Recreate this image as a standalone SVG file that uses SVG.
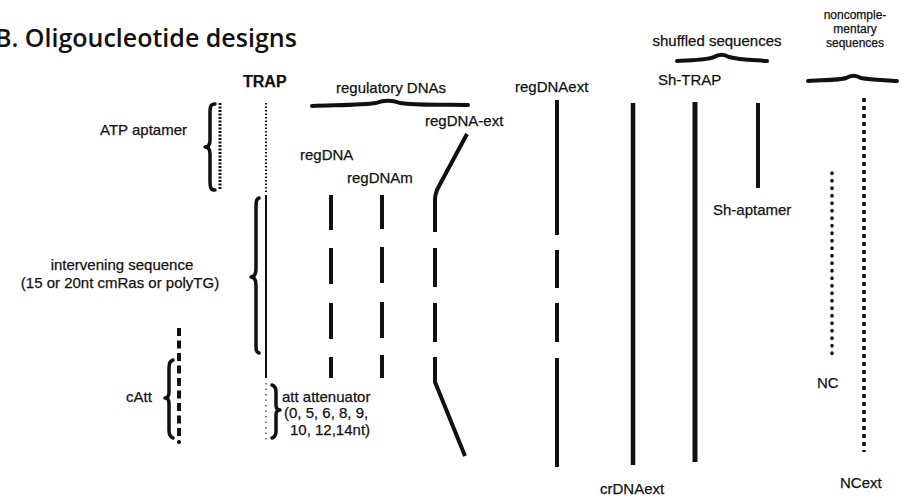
<svg xmlns="http://www.w3.org/2000/svg" width="904" height="498" viewBox="0 0 904 498">
<style>
  .bg { fill: #ffffff; }
  .title { font-family: "Open Sans", "Liberation Sans", sans-serif; font-size: 25px; font-weight: 600; fill: #111; }
  .lbl { font-family: "Liberation Sans", Arial, sans-serif; font-size: 15px; fill: #111; stroke: #111; stroke-width: 0.25; }
  .small { font-size: 12px; }
  .bold { font-weight: bold; }
  .mid { text-anchor: middle; }
  .solid { fill: none; stroke: #111; stroke-width: 4; stroke-linecap: butt; }
  .thin { fill: none; stroke: #111; stroke-width: 2; }
  .brace { fill: none; stroke: #111; stroke-width: 3.5; stroke-linecap: round; stroke-linejoin: round; }
  .ul { fill: none; stroke: #111; stroke-width: 4; stroke-linecap: round; }
</style>
<rect class="bg" x="0" y="0" width="904" height="498"/>

<text class="title" x="-5" y="47">B. Oligoucleotide designs</text>

<g id="group-labels">
  <text class="lbl mid" x="391" y="93">regulatory DNAs</text>
  <path class="ul" d="M312,106 C340,105 364,105 376,103 C384,100 392,100 400,103 C420,106 446,104 468,105"/>
  <text class="lbl mid" x="717" y="46">shuffled sequences</text>
  <path class="ul" d="M677,61 C695,60 708,60 714,57 C719,54 724,54 729,57 C740,60 755,60 767,61"/>
  <text class="lbl mid small" x="855" y="19">noncomple-</text>
  <text class="lbl mid small" x="855" y="33">mentary</text>
  <text class="lbl mid small" x="855" y="47">sequences</text>
  <path class="ul" d="M808,81 C826,80 840,80 846,78 C851,75 856,75 861,78 C872,80 886,80 897,81"/>
</g>

<g id="atp-aptamer">
  <text class="lbl" x="100" y="135">ATP aptamer</text>
  <path class="brace" d="M215,104 C211,104 210,106 210,112 L210,140 C210,145 208,147 205,147 C208,147 210,149 210,154 L210,182 C210,188 211,190 215,190"/>
  <line x1="220" y1="103" x2="220" y2="190" stroke="#111" stroke-width="3" stroke-dasharray="2 1.5"/>
</g>

<g id="intervening">
  <text class="lbl mid" x="122" y="270">intervening sequence</text>
  <text class="lbl mid" x="120" y="288">(15 or 20nt cmRas or polyTG)</text>
  <path class="brace" d="M259,198 C256,199 256,202 256,210 L256,268 C256,274 254,277 251,277 C254,277 256,280 256,286 L256,343 C256,350 256,352 259,353"/>
</g>

<g id="trap">
  <text class="lbl bold" x="243" y="87" style="font-size:16px">TRAP</text>
  <line x1="266" y1="103" x2="266" y2="192" stroke="#111" stroke-width="2" stroke-dasharray="1.5 2"/>
  <line x1="266" y1="195" x2="266" y2="378" class="thin"/>
  <line x1="266" y1="383" x2="266" y2="440" stroke="#555" stroke-width="1.5" stroke-dasharray="1.5 4"/>
</g>

<g id="catt">
  <text class="lbl" x="126" y="402">cAtt</text>
  <path class="brace" d="M173,360 C170,361 169,363 169,368 L169,392 C169,396 168,398 165,398 C168,398 169,400 169,404 L169,430 C169,435 170,437 173,438"/>
  <line x1="179" y1="328" x2="179" y2="440" stroke="#111" stroke-width="4" stroke-dasharray="8 4.5"/>
  <circle cx="179" cy="442" r="2"/>
</g>

<g id="att">
  <path class="brace" d="M272,385 C275,386 276,388 276,392 L276,405 C276,408 277,410 280,410 C277,410 276,412 276,415 L276,431 C276,435 275,437 272,438"/>
  <text class="lbl" x="282" y="402">att  attenuator</text>
  <text class="lbl" x="284" y="418">(0, 5, 6, 8, 9,</text>
  <text class="lbl" x="290" y="435">10, 12,14nt)</text>
</g>

<g id="regdna">
  <text class="lbl" x="300" y="160">regDNA</text>
  <path class="solid" d="M331,195V230 M331,248V284 M331,303V339 M331,357V378"/>
</g>

<g id="regdnam">
  <text class="lbl" x="347" y="183">regDNAm</text>
  <path class="solid" d="M382,195V229 M382,247V283 M382,302V338 M382,355V378"/>
</g>

<g id="regdna-ext">
  <text class="lbl" x="425" y="126">regDNA-ext</text>
  <path class="solid" stroke-linejoin="round" d="M467,134 L439,186 Q435,193 435,200 V232 M435,248 V287 M435,303 V342 M435,357 V382 L465,456"/>
</g>

<g id="regdnaext">
  <text class="lbl" x="515" y="92">regDNAext</text>
  <path class="solid" d="M557,100V235 M557,250V288 M557,303V342 M557,358V467"/>
</g>

<g id="crdnaext">
  <line class="solid" x1="633" y1="103" x2="633" y2="465" style="stroke-width:4.5"/>
  <text class="lbl" x="600" y="494">crDNAext</text>
</g>

<g id="sh-trap">
  <text class="lbl" x="658" y="85">Sh-TRAP</text>
  <line class="solid" x1="695" y1="102" x2="695" y2="462" style="stroke-width:5"/>
</g>

<g id="sh-aptamer">
  <line class="solid" x1="758" y1="103" x2="758" y2="188"/>
  <text class="lbl" x="713" y="215">Sh-aptamer</text>
</g>

<g id="nc">
  <line x1="832" y1="173" x2="832" y2="358" stroke="#111" stroke-width="3.5" stroke-linecap="round" stroke-dasharray="0.5 7"/>
  <text class="lbl" x="817" y="388">NC</text>
</g>

<g id="ncext">
  <line x1="864" y1="98" x2="864" y2="452" stroke="#111" stroke-width="3.5" stroke-dasharray="4 4"/>
  <text class="lbl" x="840" y="488">NCext</text>
</g>

<g id="connectors"></g>
</svg>
